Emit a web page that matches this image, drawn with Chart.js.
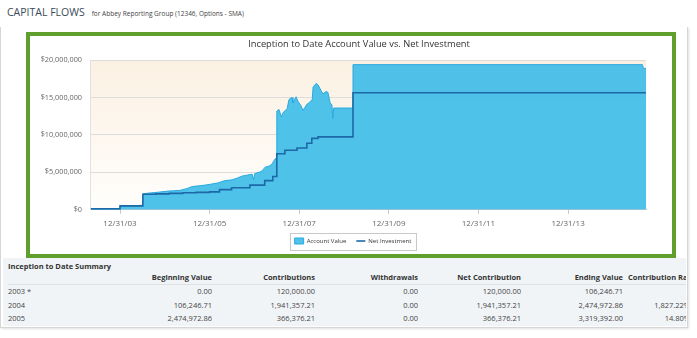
<!DOCTYPE html>
<html lang="en">
<head>
<meta charset="UTF-8">
<title>Capital Flows</title>
<script src="https://cdn.jsdelivr.net/npm/chart.js@4"></script>
<style>
    body { margin: 0; width: 697px; height: 338px; background: #fff; font-family: "Open Sans", sans-serif; position: relative; overflow: hidden; }
    .header { position: absolute; left: 7px; top: 5px; display: flex; align-items: baseline; white-space: nowrap; }
    .header h1 { margin: 0; font-size: 10.5px; font-weight: normal; color: #3b4a59; }
    .header span { margin-left: 7px; font-size: 6.5px; color: #444; }
    .card { position: absolute; left: 0; top: 27px; width: 686px; height: 300px; border: 1px solid #d6d6d6; border-top: none; box-shadow: 1px 1px 2px rgba(0,0,0,0.12); }
    .frame { position: absolute; left: 26px; top: 32px; width: 642px; height: 218px; border: 4px solid #5e9f2e; background: #fff; }
    .frame canvas { display: block; }
    .summary { position: absolute; left: 3px; top: 258px; width: 683px; height: 68px; background: #f1f4f7; overflow: hidden; font-size: 7.5px; color: #444; }
    .summary .title { position: absolute; left: 5px; top: 2px; line-height: 13px; font-weight: bold; color: #333; }
    .summary table { position: absolute; left: 5px; top: 12.5px; border-collapse: collapse; table-layout: fixed; width: 682px; }
    .summary td, .summary th { padding: 0; height: 13.5px; line-height: 13px; text-align: right; white-space: nowrap; overflow: hidden; }
    .summary th { font-weight: bold; color: #333; border-bottom: 1px solid #dde2e7; }
    .summary td:first-child, .summary th:first-child { text-align: left; }
    .summary th:last-child { text-align: left; padding-left: 5px; }
</style>
</head>
<body>
    <div class="header"><h1>CAPITAL FLOWS</h1><span>for Abbey Reporting Group (12346, Options - SMA)</span></div>
    <div class="card"></div>
    <div class="frame"><canvas id="flowChart" width="642" height="218"></canvas></div>
    <div class="summary">
        <div class="title">Inception to Date Summary</div>
        <table id="summaryTable">
            <colgroup><col style="width:101px"><col style="width:103px"><col style="width:103px"><col style="width:103px"><col style="width:103px"><col style="width:102px"><col style="width:67px"></colgroup>
            <thead><tr><th></th><th>Beginning Value</th><th>Contributions</th><th>Withdrawals</th><th>Net Contribution</th><th>Ending Value</th><th>Contribution Rate</th></tr></thead>
            <tbody></tbody>
        </table>
    </div>

    <script>
        // dates as fractional years, values in dollars
        const accountDates = [2003.35, 2003.70, 2003.99, 2004.01, 2004.30, 2004.50, 2004.52, 2004.67, 2004.85, 2005.07,
            2005.20, 2005.34, 2005.50, 2005.61, 2005.75, 2005.90, 2006.05, 2006.19, 2006.34, 2006.50,
            2006.62, 2006.72, 2006.85, 2006.95, 2006.98, 2007.01, 2007.12, 2007.17, 2007.24, 2007.33,
            2007.39, 2007.46, 2007.49, 2007.50, 2007.55, 2007.60, 2007.64, 2007.73, 2007.77, 2007.80,
            2007.84, 2007.86, 2007.93, 2007.97, 2008.04, 2008.08, 2008.12, 2008.17, 2008.22, 2008.29,
            2008.31, 2008.38, 2008.42, 2008.49, 2008.53, 2008.60, 2008.64, 2008.69, 2008.73, 2008.75,
            2008.77, 2009.19, 2009.20, 2015.66, 2015.68, 2015.74];
        const accountValues = [100000, 110000, 120000, 500000, 550000, 600000, 2150000, 2250000, 2350000, 2500000,
            2550000, 2600000, 2850000, 3100000, 3200000, 3300000, 3450000, 3600000, 3900000, 4000000,
            4250000, 4500000, 4650000, 4750000, 4050000, 4850000, 5050000, 5200000, 5700000, 5850000,
            6100000, 6800000, 6900000, 13200000, 13400000, 12400000, 13000000, 13500000, 14700000, 14900000,
            15000000, 14300000, 15100000, 14500000, 13900000, 13300000, 13600000, 14100000, 14300000, 14750000,
            16400000, 16900000, 16700000, 15900000, 15500000, 15800000, 15700000, 14300000, 14000000, 12200000,
            13600000, 13600000, 19400000, 19400000, 18900000, 18900000];

        const netDates = [2003.35, 2004.00, 2004.51, 2004.80, 2005.10, 2005.40, 2005.70, 2006.00, 2006.22, 2006.49,
            2006.90, 2007.23, 2007.41, 2007.50, 2007.68, 2007.95, 2008.17, 2008.28, 2008.42, 2009.20, 2015.74];
        const netValues = [120000, 520000, 2070000, 2130000, 2200000, 2270000, 2330000, 2400000, 2700000, 2950000,
            3300000, 3900000, 4450000, 7500000, 7950000, 8250000, 8900000, 9550000, 9750000, 15650000, 15650000];

        const xTickYears = [2004, 2006, 2008, 2010, 2012, 2014];
        const yMax = 20000000;
        const yStep = 5000000;

        const summaryYears = ['2003 *', '2004', '2005'];
        const beginningValues = ['0.00', '106,246.71', '2,474,972.86'];
        const contributions = ['120,000.00', '1,941,357.21', '366,376.21'];
        const withdrawals = ['0.00', '0.00', '0.00'];
        const netContributions = ['120,000.00', '1,941,357.21', '366,376.21'];
        const endingValues = ['106,246.71', '2,474,972.86', '3,319,392.00'];
        const contributionRates = ['', '1,827.22%', '14.80%'];

        const tbody = document.querySelector('#summaryTable tbody');
        summaryYears.forEach((yr, i) => {
            const tr = document.createElement('tr');
            [yr, beginningValues[i], contributions[i], withdrawals[i], netContributions[i], endingValues[i], contributionRates[i]].forEach(v => {
                const td = document.createElement('td');
                td.textContent = v;
                tr.appendChild(td);
            });
            tbody.appendChild(tr);
        });

        const plotBackground = {
            id: 'plotBackground',
            beforeDraw(chart) {
                const { ctx, chartArea: a } = chart;
                const g = ctx.createLinearGradient(0, a.top, 0, a.bottom);
                g.addColorStop(0, '#fbf0e2');
                g.addColorStop(1, '#fffefc');
                ctx.save();
                ctx.fillStyle = g;
                ctx.fillRect(a.left, a.top, a.width, a.height);
                ctx.restore();
            }
        };

        // title and legend in the original sit a bit right of the canvas centre
        const boxShift = {
            id: 'boxShift',
            afterLayout(chart) {
                if (chart.titleBlock) {
                    chart.titleBlock.left += 16;
                    chart.titleBlock.right += 16;
                }
                if (chart.legend) {
                    chart.legend.left += 10;
                    chart.legend.right += 10;
                }
            }
        };

        const legendFrame = {
            id: 'legendFrame',
            afterDraw(chart) {
                const boxes = chart.legend.legendHitBoxes;
                if (!boxes || !boxes.length) return;
                const l = Math.min(...boxes.map(b => b.left)) - 5;
                const r = Math.max(...boxes.map(b => b.left + b.width)) + 4;
                const t = Math.min(...boxes.map(b => b.top)) - 5;
                const bt = Math.max(...boxes.map(b => b.top + b.height)) + 6;
                const ctx = chart.ctx;
                ctx.save();
                ctx.strokeStyle = '#c9c9c9';
                ctx.lineWidth = 1;
                ctx.strokeRect(Math.round(l) + 0.5, Math.round(t) + 0.5, Math.round(r - l), Math.round(bt - t));
                ctx.restore();
            }
        };

        const fontFamily = '"Open Sans", sans-serif';

        new Chart(document.getElementById('flowChart'), {
            type: 'line',
            data: {
                datasets: [
                    {
                        label: 'Account Value',
                        data: accountDates.map((d, i) => ({ x: d, y: accountValues[i] })),
                        fill: 'origin',
                        backgroundColor: 'rgba(64,189,232,0.92)',
                        borderColor: '#2aa9e0',
                        borderWidth: 1,
                        pointRadius: 0,
                        tension: 0,
                        pointStyle: 'rect',
                        order: 1
                    },
                    {
                        label: 'Net Investment',
                        data: netDates.map((d, i) => ({ x: d, y: netValues[i] })),
                        stepped: 'before',
                        fill: false,
                        borderColor: '#1d68a6',
                        borderWidth: 1.6,
                        pointRadius: 0,
                        pointStyle: 'line',
                        order: 0
                    }
                ]
            },
            options: {
                responsive: false,
                animation: false,
                devicePixelRatio: 1,
                layout: { padding: { left: 10, right: 26, top: 0, bottom: 0 } },
                plugins: {
                    title: {
                        display: true,
                        text: 'Inception to Date Account Value vs. Net Investment',
                        color: '#333',
                        font: { family: fontFamily, size: 9.3, weight: 'normal' },
                        padding: { top: 3, bottom: 10 }
                    },
                    legend: {
                        position: 'bottom',
                        labels: {
                            usePointStyle: true,
                            pointStyleWidth: 9,
                            boxHeight: 6,
                            padding: 10,
                            color: '#333',
                            font: { family: fontFamily, size: 6 },
                            sort: (a, b) => a.datasetIndex - b.datasetIndex
                        }
                    },
                    tooltip: { enabled: false }
                },
                scales: {
                    x: {
                        type: 'linear',
                        min: 2003.33,
                        max: 2015.74,
                        afterBuildTicks: s => { s.ticks = xTickYears.map(v => ({ value: v })); },
                        afterFit: s => { s.height -= 5.8; },
                        ticks: {
                            autoSkip: false,
                            maxRotation: 0,
                            padding: 5.2,
                            color: '#666',
                            font: { family: fontFamily, size: 8 },
                            callback: v => '12/31/' + String(v - 1).slice(-2)
                        },
                        grid: { drawOnChartArea: false, drawTicks: true, tickLength: 4, color: '#c8c8c8' },
                        border: { color: '#c8c8c8' }
                    },
                    y: {
                        min: 0,
                        max: yMax,
                        afterFit: s => { s.width = 50; },
                        ticks: {
                            stepSize: yStep,
                            padding: 8,
                            color: '#666',
                            font: { family: fontFamily, size: 7.3 },
                            callback: v => '$' + v.toLocaleString('en-US')
                        },
                        grid: { color: '#dcdcdc', drawTicks: false },
                        border: { color: '#e2e2e2' }
                    }
                }
            },
            plugins: [plotBackground, boxShift, legendFrame]
        });
    </script>
</body>
</html>
